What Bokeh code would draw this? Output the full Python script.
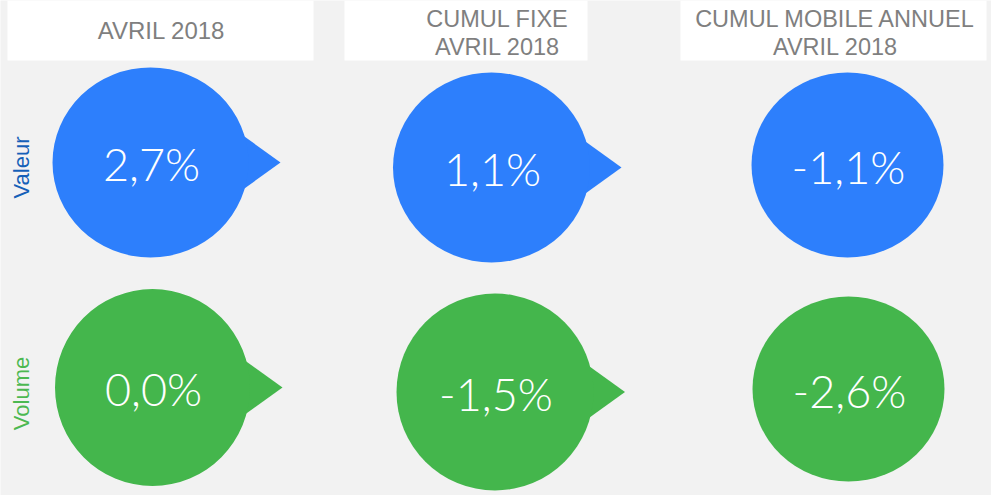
import math
from bokeh.plotting import figure
from bokeh.models import Range1d
from bokeh.core.properties import value
from bokeh.embed import file_html
from bokeh.resources import INLINE

# ---- data ----
headers = ["AVRIL 2018", "CUMUL FIXE\nAVRIL 2018", "CUMUL MOBILE ANNUEL\nAVRIL 2018"]
row_labels = ["Valeur", "Volume"]
valeur = [2.7, 1.1, -1.1]
volume = [0.0, -1.5, -2.6]
has_pointer = [True, True, False]

# ---- layout / style ----
BG = "#f2f2f2"
BLUE = "#2d7ffc"
GREEN = "#44b64c"
LABEL_COLORS = ["#1560b8", "#4cb851"]
HEAD_COLOR = "#7f7f7f"
# per-cell bubble layout: (cx, cy, width, height)
cells = [
    [(150, 162, 196, 190), (491, 167, 197, 190), (847, 164.5, 192, 185)],
    [(152, 387, 195, 197), (494.5, 391.5, 197, 197), (848, 388.5, 192, 185)],
]
label_y = [167, 393]
TIP = 130
box_lr = [(7, 313), (344, 587), (680, 986)]
head_x = [161, 497, 835]

W, H = 991, 495
p = figure(width=W, height=H, output_backend="svg", toolbar_location=None,
           x_range=Range1d(0, W), y_range=Range1d(H, 0),
           min_border=0, background_fill_color=BG, border_fill_color=BG)
p.axis.visible = False
p.grid.visible = False
p.outline_line_color = None

# header boxes
p.quad(left=[b[0] for b in box_lr], right=[b[1] for b in box_lr],
       top=[0] * 3, bottom=[60] * 3, fill_color="white", line_color=None)

# header texts
for i, h in enumerate(headers):
    lines = h.split("\n")
    if len(lines) == 1:
        p.text(x=[head_x[i]], y=[30], text=[lines[0]], text_font=value("Liberation Sans"),
               text_font_size="24px", text_color=HEAD_COLOR, text_align="center",
               text_baseline="middle")
    else:
        p.text(x=[head_x[i]] * 2, y=[18, 46.5], text=lines,
               text_font=value("Liberation Sans"), text_font_size="23.5px",
               text_color=HEAD_COLOR, text_align="center", text_baseline="middle")

def fmt(v):
    return f"{v:.1f}%".replace(".", ",")

for r, (vals, color) in enumerate([(valeur, BLUE), (volume, GREEN)]):
    row = cells[r]
    # pointers
    xs, ys = [], []
    for i, ptr in enumerate(has_pointer):
        if ptr:
            cx, cy = row[i][0], row[i][1]
            xs.append([cx + 80, cx + TIP, cx + 80])
            ys.append([cy - 36, cy, cy + 36])
    p.patches(xs=xs, ys=ys, fill_color=color, line_color=None)
    p.ellipse(x=[c[0] for c in row], y=[c[1] for c in row],
              width=[c[2] for c in row], height=[c[3] for c in row],
              fill_color=color, line_color=None)
    p.text(x=[c[0] + 1 for c in row], y=[c[1] + 1.5 for c in row],
           text=[fmt(v) for v in vals],
           text_font=value("Lato Light"), text_font_size="45px", text_color="white",
           text_align="center", text_baseline="middle")
    p.text(x=[21], y=[label_y[r]], text=[row_labels[r]], angle=math.pi / 2,
           text_font=value("Liberation Sans"), text_font_size="22px",
           text_color=LABEL_COLORS[r], text_align="center", text_baseline="middle")

html = file_html(p, INLINE)
html = html.replace("<body>", '<body style="background-color:%s;">' % BG, 1)
open("out.html", "w").write(html)
